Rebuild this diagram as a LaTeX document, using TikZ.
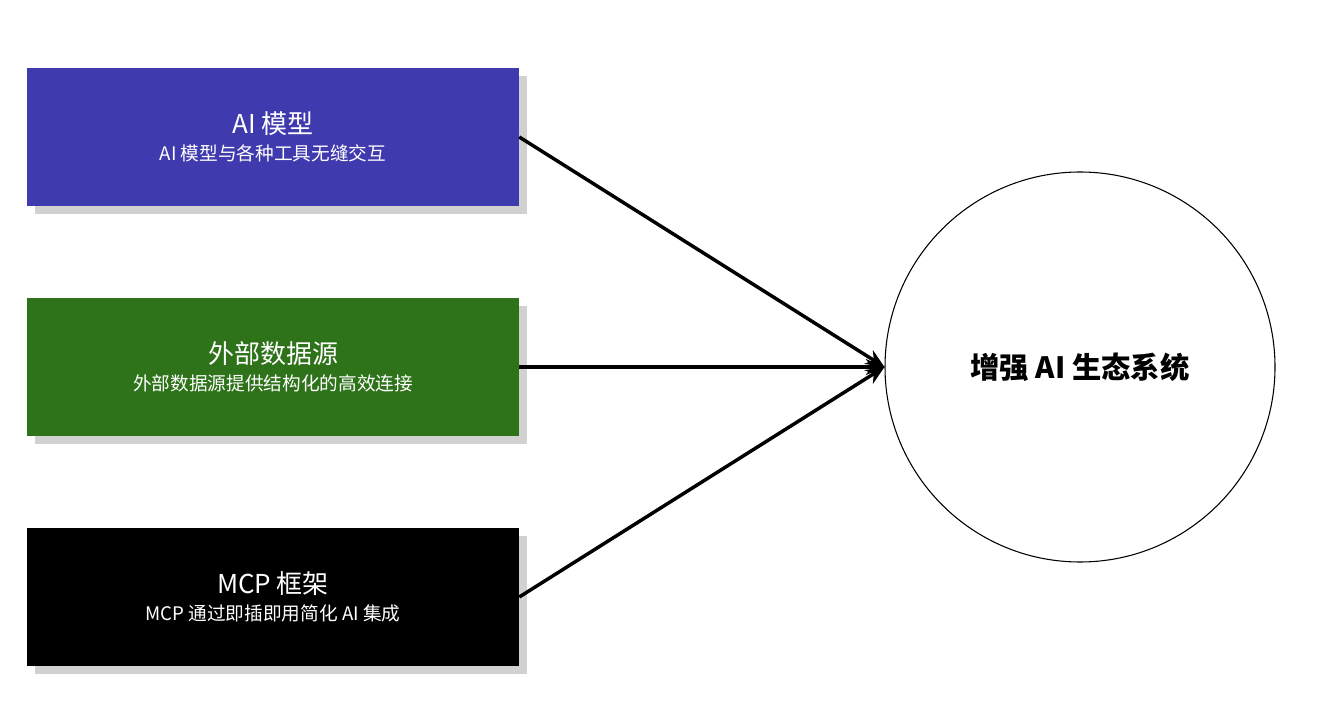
\documentclass[tikz,border=0pt]{standalone}
\usepackage{fontspec}
\setmainfont{Noto Sans CJK SC}
\usetikzlibrary{shadows,arrows.meta}
\definecolor{cblue}{HTML}{3F3AAE}
\definecolor{cgreen}{HTML}{2E7219}
\tikzset{
  box/.style={minimum width=492*0.75pt, minimum height=138*0.75pt, inner sep=0pt, text=white, align=center,
    drop shadow={shadow xshift=6pt, shadow yshift=-6pt, opacity=0.3, fill=black!60}},
  conn/.style={line width=2.6pt, -{Stealth[length=14pt,width=12pt]}}
}
\begin{document}
\begin{tikzpicture}[x=0.75pt,y=-0.75pt]
\useasboundingbox (0,0) rectangle (1333,712);
\node[box,fill=cblue] (a) at (273,137) {{\fontsize{19.5}{24}\selectfont AI 模型}\\[6pt]{\fontsize{14}{18}\selectfont AI 模型与各种工具无缝交互}};
\node[box,fill=cgreen] (b) at (273,367) {{\fontsize{19.5}{24}\selectfont 外部数据源}\\[6pt]{\fontsize{14}{18}\selectfont 外部数据源提供结构化的高效连接}};
\node[box,fill=black] (c) at (273,597) {{\fontsize{19.5}{24}\selectfont MCP 框架}\\[6pt]{\fontsize{14}{18}\selectfont MCP 通过即插即用简化 AI 集成}};
\node[circle,draw=black,line width=0.8pt,minimum size=390*0.75pt,inner sep=0pt] (s) at (1080,367) {\fontsize{22}{26}\selectfont\bfseries 增强 AI 生态系统};
\draw[conn] (a.east) -- (s.west);
\draw[conn] (b.east) -- (s.west);
\draw[conn] (c.east) -- (s.west);
\end{tikzpicture}
\end{document}
